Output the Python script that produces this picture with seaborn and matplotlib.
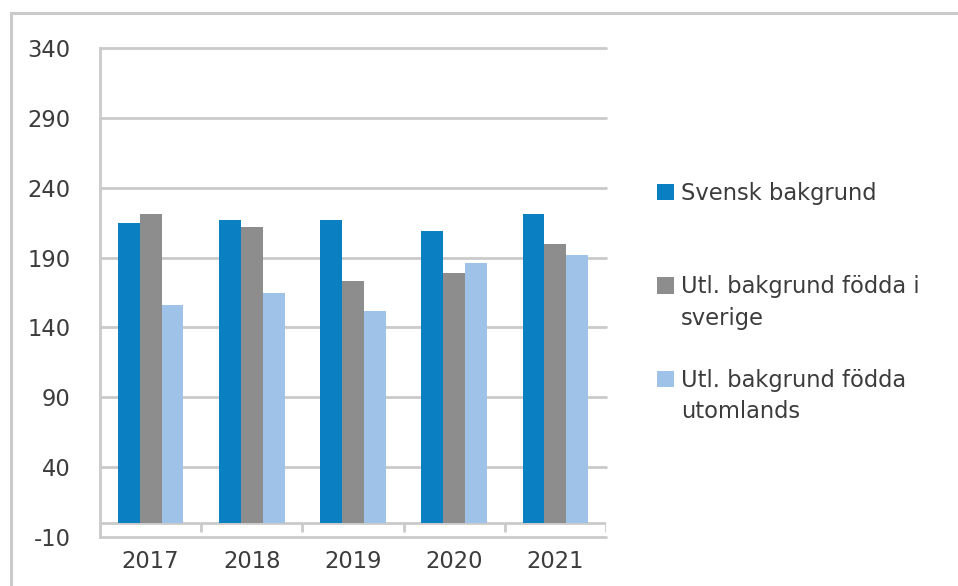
import matplotlib
matplotlib.use('Agg')
import matplotlib.pyplot as plt
import seaborn as sns
import pandas as pd
from matplotlib.patches import Rectangle, Patch

# ---- data ----
years = ['2017', '2018', '2019', '2020', '2021']
svensk = [215, 217, 217, 209, 221]
utl_sverige = [221, 212, 173, 179, 200]
utl_utomlands = [156, 165, 152, 186, 192]
series = ['Svensk bakgrund', 'Utl. bakgrund födda i sverige', 'Utl. bakgrund födda utomlands']
legend_lines = [['Svensk bakgrund'], ['Utl. bakgrund födda i', 'sverige'], ['Utl. bakgrund födda', 'utomlands']]
colors = ['#0a7fc2', '#8d8d8d', '#9fc3e8']
yticks = [-10, 40, 90, 140, 190, 240, 290, 340]

df = pd.DataFrame({
    'year': years * 3,
    'series': [s for s in series for _ in years],
    'value': svensk + utl_sverige + utl_utomlands,
})

sns.set_theme(style='white')
plt.rcParams['font.family'] = ['DejaVu Sans']

GRID = '#cacaca'
TXT = '#3c3c3c'
FS = 16.3

fig = plt.figure(figsize=(9.58, 5.86), dpi=100)
ax = fig.add_axes([100 / 958, 1 - 537 / 586, (606 - 100) / 958, (537 - 48) / 586])

sns.barplot(data=df, x='year', y='value', hue='series', order=years, hue_order=series,
            palette=colors, width=0.65, saturation=1, linewidth=0, errorbar=None,
            legend=False, ax=ax, zorder=3)

ax.set_ylim(-10, 340)
ax.set_xlim(-0.5, len(years) - 0.5)
ax.set_yticks(yticks)
ax.set_yticklabels([str(v) for v in yticks])
ax.set_xlabel('')
ax.set_ylabel('')
ax.yaxis.grid(True, color=GRID, linewidth=2)
ax.xaxis.grid(False)
for gl in ax.get_ygridlines():
    gl.set_clip_on(False)
ax.set_axisbelow(True)

for s in ['top', 'right', 'bottom']:
    ax.spines[s].set_visible(False)
ax.spines['left'].set_color(GRID)
ax.spines['left'].set_linewidth(2)

ax.tick_params(axis='y', length=5, width=2, color=GRID, pad=16, labelsize=FS, labelcolor=TXT)
ax.tick_params(axis='x', length=0, pad=9, labelsize=FS, labelcolor=TXT)

# category axis at zero with boundary ticks
ax.axhline(0, color=GRID, linewidth=2, zorder=2)
bounds = [i - 0.5 for i in range(len(years) + 1)]
ax.vlines(bounds, -6.5, 0, color=GRID, linewidth=2, zorder=2)

# legend (rows spaced evenly, continuation lines as blank-handle rows)
blank = Patch(facecolor='none', edgecolor='none')
hs = [Patch(facecolor=c, edgecolor='none') for c in colors]
handles = [hs[0], blank, blank, hs[1], blank, blank, hs[2], blank]
labels = [legend_lines[0][0], ' ', ' ', legend_lines[1][0], legend_lines[1][1], ' ',
          legend_lines[2][0], legend_lines[2][1]]
leg = fig.legend(handles, labels, loc='upper left', bbox_to_anchor=(657 / 958, 1 - 182 / 586),
                 frameon=False, fontsize=FS, handlelength=0.75, handleheight=0.72,
                 handletextpad=0.3, labelspacing=0.36, borderpad=0, borderaxespad=0)
for t in leg.get_texts():
    t.set_color(TXT)

# outer chart frame
fig.add_artist(Rectangle((11 / 958, -0.1), 2, 1.1 - 13 / 586, transform=fig.transFigure,
                         fill=False, edgecolor=GRID, linewidth=2.2))

fig.savefig('out.png', dpi=100)
